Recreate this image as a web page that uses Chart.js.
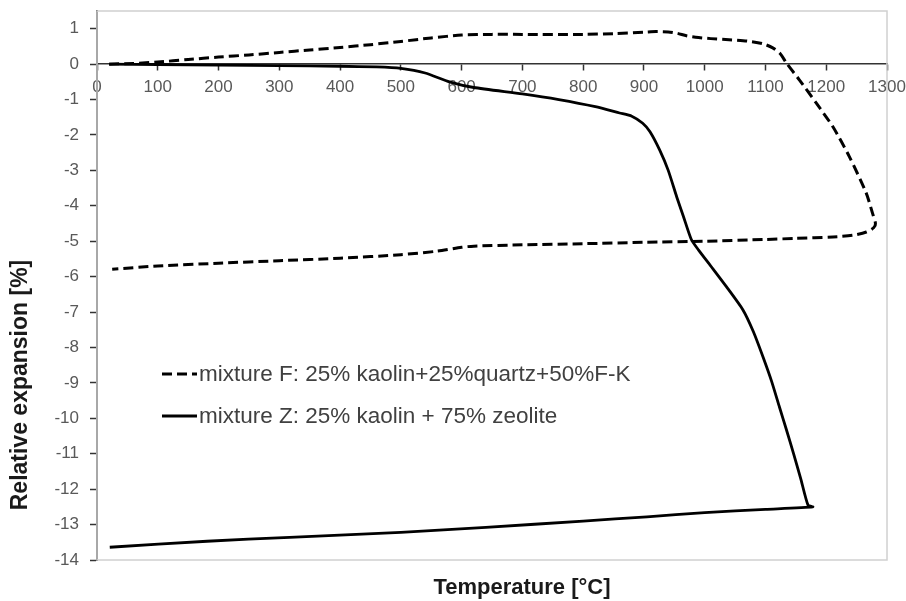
<!DOCTYPE html>
<html>
<head>
<meta charset="utf-8">
<script src="https://cdn.jsdelivr.net/npm/chart.js@4/dist/chart.umd.min.js"></script>
<style>
  html, body { margin: 0; padding: 0; background: #fff; }
  canvas { display: block; }
</style>
</head>
<body>
<canvas id="c" width="906" height="601"></canvas>
<script>
// Axis ticks
const xTicks = [0, 100, 200, 300, 400, 500, 600, 700, 800, 900, 1000, 1100, 1200, 1300];
const yTicks = [-14, -13, -12, -11, -10, -9, -8, -7, -6, -5, -4, -3, -2, -1, 0, 1];

// Series names
const seriesNames = [
  'mixture F: 25% kaolin+25%quartz+50%F-K',
  'mixture Z: 25% kaolin + 75% zeolite'
];

// Mixture F: heating run then cooling run (temperature °C, expansion %)
const fTemp = [20, 60, 100, 150, 200, 250, 300, 350, 400, 450, 500, 550, 600, 650, 700, 800, 850, 900, 920, 940, 955, 970, 990, 1010, 1040, 1070, 1095, 1112, 1124, 1135, 1156, 1184, 1211, 1238, 1266, 1276, 1281, 1278, 1266, 1244, 1211, 1150, 1100, 1000, 900, 800, 700, 620, 600, 560, 500, 400, 300, 200, 100, 25];
const fExp  = [0.0, 0.02, 0.06, 0.13, 0.2, 0.26, 0.33, 0.4, 0.47, 0.55, 0.64, 0.74, 0.82, 0.84, 0.84, 0.84, 0.86, 0.9, 0.92, 0.91, 0.87, 0.8, 0.75, 0.72, 0.69, 0.65, 0.58, 0.46, 0.3, 0.02, -0.45, -1.11, -1.77, -2.61, -3.65, -4.2, -4.5, -4.62, -4.74, -4.83, -4.88, -4.92, -4.95, -5.0, -5.03, -5.07, -5.1, -5.14, -5.17, -5.28, -5.38, -5.48, -5.55, -5.62, -5.7, -5.79];

// Mixture Z: heating run then cooling run
const zTemp = [20, 100, 200, 300, 400, 460, 500, 540, 580, 620, 700, 760, 820, 860, 880, 898, 910, 926, 940, 954, 965, 978, 990, 1010, 1036, 1063, 1080, 1096, 1110, 1123, 1135, 1146, 1158, 1170, 1178, 1100, 1000, 905, 800, 640, 500, 317, 181, 21];
const zExp  = [0.0, -0.01, -0.03, -0.04, -0.06, -0.08, -0.12, -0.25, -0.5, -0.66, -0.84, -1.0, -1.2, -1.38, -1.47, -1.67, -1.91, -2.43, -3.0, -3.75, -4.3, -4.95, -5.25, -5.7, -6.29, -6.94, -7.55, -8.27, -8.95, -9.68, -10.35, -10.98, -11.7, -12.45, -12.5, -12.57, -12.66, -12.78, -12.9, -13.08, -13.22, -13.36, -13.47, -13.64];

const toPoints = (xs, ys) => xs.map((x, i) => ({ x, y: ys[i] }));

const FONT = "'Liberation Sans', Arial, Helvetica, sans-serif";
const dashF = [10, 5];

// Frame, legend and axis titles
const decor = {
  id: 'decor',
  beforeDraw(chart) {
    const ctx = chart.ctx;
    ctx.save();
    ctx.fillStyle = '#ffffff';
    ctx.fillRect(0, 0, chart.width, chart.height);
    ctx.restore();
  },
  beforeDatasetsDraw(chart) {
    const { ctx, chartArea: a } = chart;
    ctx.save();
    ctx.strokeStyle = '#d0d0d0';
    ctx.lineWidth = 1.5;
    ctx.strokeRect(a.left, a.top, a.right - a.left, a.bottom - a.top);
    ctx.restore();
  },
  afterDraw(chart) {
    const { ctx } = chart;
    ctx.save();
    // legend
    const lx = 162, lw = 35;
    const rows = [374, 416];
    const dashes = [dashF, []];
    ctx.font = '22.5px ' + FONT;
    ctx.textBaseline = 'middle';
    ctx.textAlign = 'left';
    rows.forEach((ry, i) => {
      ctx.strokeStyle = '#000';
      ctx.lineWidth = 3;
      ctx.setLineDash(dashes[i]);
      ctx.beginPath();
      ctx.moveTo(lx, ry);
      ctx.lineTo(lx + lw, ry);
      ctx.stroke();
      ctx.setLineDash([]);
      ctx.fillStyle = '#404040';
      ctx.fillText(seriesNames[i], lx + lw + 2, ry + 1);
    });
    // axis titles
    ctx.fillStyle = '#1a1a1a';
    ctx.textAlign = 'center';
    ctx.font = 'bold 22px ' + FONT;
    ctx.fillText('Temperature [°C]', 522, 588);
    ctx.font = 'bold 23px ' + FONT;
    ctx.translate(21, 385);
    ctx.rotate(-Math.PI / 2);
    ctx.fillText('Relative expansion [%]', 0, 0);
    ctx.restore();
  }
};

new Chart(document.getElementById('c'), {
  type: 'scatter',
  data: {
    datasets: [
      {
        label: seriesNames[0],
        data: toPoints(fTemp, fExp),
        showLine: true,
        borderColor: '#000',
        borderWidth: 3,
        borderDash: dashF,
        pointRadius: 0,
        tension: 0.25,
        fill: false
      },
      {
        label: seriesNames[1],
        data: toPoints(zTemp, zExp),
        showLine: true,
        borderColor: '#000',
        borderWidth: 2.8,
        pointRadius: 0,
        tension: 0.2,
        fill: false
      }
    ]
  },
  options: {
    responsive: false,
    animation: false,
    devicePixelRatio: 1,
    layout: { padding: { left: 0, right: 19, top: 11, bottom: 41 } },
    plugins: {
      legend: { display: false },
      tooltip: { enabled: false }
    },
    scales: {
      x: {
        type: 'linear',
        position: { y: 0 },
        min: 0,
        max: 1300,
        afterBuildTicks(scale) { scale.ticks = xTicks.map(v => ({ value: v })); },
        afterFit(scale) { scale.paddingLeft = 0; scale.paddingRight = 0; },
        ticks: {
          autoSkip: false,
          maxRotation: 0,
          padding: 7,
          color: '#595959',
          font: { family: FONT, size: 17 },
          callback: v => String(v)
        },
        grid: {
          drawOnChartArea: false,
          drawTicks: true,
          tickLength: 6,
          tickColor: '#333',
          tickWidth: 1.5
        },
        border: { display: true, color: '#333', width: 1.5 }
      },
      y: {
        type: 'linear',
        min: -14,
        max: 1.5,
        afterBuildTicks(scale) { scale.ticks = yTicks.map(v => ({ value: v })); },
        afterFit(scale) {
          scale.width = 97;
          scale.paddingTop = 0;
          scale.paddingBottom = 0;
        },
        ticks: {
          autoSkip: false,
          padding: 11,
          color: '#595959',
          font: { family: FONT, size: 17 },
          callback: v => String(v)
        },
        grid: {
          drawOnChartArea: false,
          drawTicks: true,
          tickLength: 7,
          tickColor: '#333',
          tickWidth: 1.5
        },
        border: { display: true, color: '#333', width: 2 }
      }
    }
  },
  plugins: [decor]
});
</script>
</body>
</html>
